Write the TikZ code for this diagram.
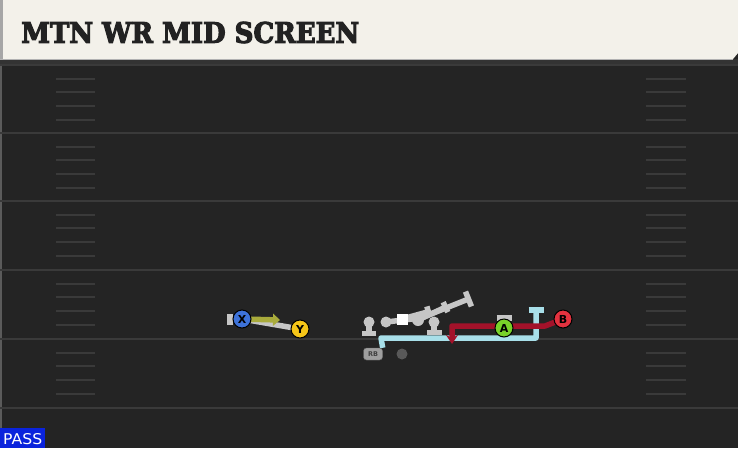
\documentclass[tikz,border=0pt]{standalone}
\usepackage{fontspec}
\usepackage{graphicx}
\usepackage{tikz}
\usetikzlibrary{arrows.meta}
\newfontfamily\titlefont[FakeBold=4]{DejaVu Serif Bold}
\newfontfamily\markfont{DejaVu Sans}
\definecolor{fieldbg}{HTML}{242424}
\definecolor{yardline}{HTML}{3A3A3A}
\definecolor{headerbg}{HTML}{F3F1EA}
\definecolor{titletext}{HTML}{222222}
\definecolor{passblue}{HTML}{0A23DC}
\definecolor{xblue}{HTML}{3D72D9}
\definecolor{yyellow}{HTML}{F5C518}
\definecolor{agreen}{HTML}{78D22A}
\definecolor{bred}{HTML}{E3323F}
\definecolor{blockgrey}{HTML}{C6C6C6}
\definecolor{rbblue}{HTML}{A8DFE9}
\definecolor{routered}{HTML}{A3122A}
\definecolor{routeolive}{HTML}{A9AB3C}
\pgfdeclarelayer{field}
\pgfdeclarelayer{routes}
\pgfsetlayers{field,routes,main}

\begin{document}
\begin{tikzpicture}[x=1pt,y=-1pt,
    player/.style={circle,draw=black,line width=1pt,minimum size=18pt,inner sep=0pt,
      font=\markfont\bfseries\fontsize{11}{11}\selectfont},
    lineman/.style={circle,fill=blockgrey,minimum size=11pt,inner sep=0pt},
    route/.style={line width=5.5pt,line join=round},
    blockline/.style={route,draw=blockgrey},
    hashmark/.style={draw=yardline,line width=2pt}]
	\useasboundingbox (0,0) rectangle (738,448);
	
	\begin{pgfonlayer}{field}
		\path[fill=fieldbg] (0,0) rectangle (738,448);
		\path[fill=black!80] (0,59) rectangle (738,64);
		\path[fill=white!25!fieldbg] (0,64) rectangle (2,448);
		\foreach \y in {65,133,201,270,339,408}
			\path[draw=yardline,line width=2.5pt] (0,\y) -- (738,\y);
		\foreach \y in {65,133,201,270,339}
			\foreach \k in {1,2,3,4} {
				\path[hashmark] (56,\y+\k*13.7) -- (95,\y+\k*13.7);
				\path[hashmark] (646,\y+\k*13.7) -- (686,\y+\k*13.7);
			}
		\path[fill=headerbg] (0,0) -- (738,0) -- (738,53) -- (733,59) -- (0,59) -- cycle;
		\path[fill=gray!70] (0,0) rectangle (3,59);
		\path[draw=gray!60,line width=1pt] (0,59.5) -- (733,59.5);
		\path[fill=passblue] (0,428) rectangle (45,448);
	\end{pgfonlayer}
	
	\node[anchor=west,inner sep=0pt,text=titletext] (title) at (21,32.5)
		{\resizebox{338pt}{21pt}{\titlefont MTN WR MID SCREEN}};
	\node[anchor=west,inner sep=0pt,text=white] (pass) at (3,439.5)
		{\resizebox{39pt}{11pt}{\markfont PASS}};
	
	\node[player,fill=xblue] (X) at (242,319) {X};
	\node[player,fill=yyellow] (Y) at (300,329) {Y};
	\node[player,fill=agreen] (A) at (504,328) {A};
	\node[player,fill=bred] (B) at (563,319) {B};
	\node[rounded corners=3pt,draw=black!60,fill=gray!75,minimum width=19pt,minimum height=12pt,
		inner sep=0pt,font=\markfont\bfseries\fontsize{6.5}{6.5}\selectfont,text=black!75] (RB) at (373,354) {RB};
	\node[circle,fill=gray!70!black,minimum size=11pt,inner sep=0pt] (back) at (402,354) {};
	\node[fill=white,minimum size=11pt,inner sep=0pt] (C) at (402,319) {};
	\node[lineman] (LT) at (369,322) {};
	\node[lineman] (LG) at (386,322) {};
	\node[lineman,minimum size=12pt] (RG) at (418,320) {};
	\node[lineman] (RT) at (434,322) {};
	
	\coordinate (xblock) at (227,319);
	\coordinate (xend) at (280,320);
	\coordinate (ablock) at (504,315);
	\coordinate (ltblock) at (369,336);
	\coordinate (rtblock) at (434,335);
	\coordinate (lgbend) at (421,318);
	\coordinate (lgblock) at (471,298);
	\coordinate (cblock) at (431,311);
	\coordinate (rgblock) at (448,306);
	\coordinate (rbbend) at (381,338);
	\coordinate (rbcorner) at (536,338);
	\coordinate (rbend) at (536,307);
	\coordinate (bbend) at (545,326);
	\coordinate (bcorner) at (452,326);
	\coordinate (bend) at (452,344);
	
	\begin{pgfonlayer}{routes}
		\draw[blockline,-{Bar[width=11pt]}] (X.center) -- (xblock);
		\draw[blockline] (X.center) -- (Y.center);
		\draw[route,draw=routeolive,-{Triangle[length=7pt,width=12pt]}] (X.center) -- (xend);
		\draw[blockline,-{Bar[width=14pt]}] (LT.center) -- (ltblock);
		\draw[blockline,-{Bar[width=15pt]}] (RT.center) -- (rtblock);
		\draw[blockline,-{Bar[width=16pt]}] (LG.center) -- (lgbend) -- (lgblock);
		\draw[blockline,-{Bar[width=11pt]}] (C.center) -- (cblock);
		\draw[blockline,-{Bar[width=11pt]}] (RG.center) -- (rgblock);
		\draw[route,draw=rbblue,-{Bar[width=15pt]}] (RB.north east) -- (rbbend) -- (rbcorner) -- (rbend);
		\draw[blockline,-{Bar[width=15pt]}] (A.center) -- (ablock);
		\draw[route,draw=routered,-{Stealth[length=9pt,width=12pt]}] (B.center) -- (bbend) -- (bcorner) -- (bend);
	\end{pgfonlayer}
\end{tikzpicture}
\end{document}
